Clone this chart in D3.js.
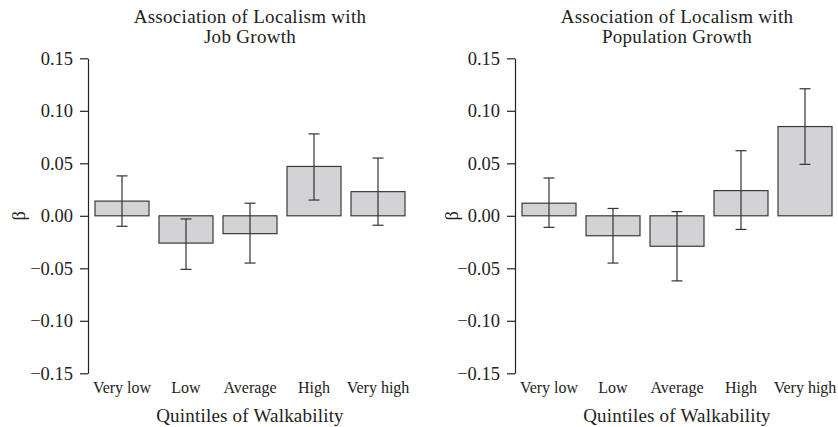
<!DOCTYPE html>
<html>
<head>
<meta charset="utf-8">
<script src="https://cdn.jsdelivr.net/npm/d3@7"></script>
<style>
  body { margin: 0; background: #fff; }
  svg text { font-family: "Liberation Serif", "Times New Roman", serif; fill: #222; }
</style>
</head>
<body>
<svg id="chart" width="838" height="427"></svg>
<script>
// quintiles of walkability
const categories = ["Very low", "Low", "Average", "High", "Very high"];

// job growth panel
const jobBeta  = [0.014, -0.026, -0.017, 0.047, 0.023];
const jobLower = [-0.010, -0.051, -0.045, 0.015, -0.009];
const jobUpper = [0.038, -0.003, 0.012, 0.078, 0.055];

// population growth panel
const popBeta  = [0.012, -0.019, -0.029, 0.024, 0.085];
const popLower = [-0.011, -0.045, -0.062, -0.013, 0.049];
const popUpper = [0.036, 0.007, 0.004, 0.062, 0.121];

const yTicks = [-0.15, -0.10, -0.05, 0.00, 0.05, 0.10, 0.15];

const svg = d3.select('#chart');

const yScale = d3.scaleLinear()
  .domain([-0.15, 0.15])
  .range([373.3, 58.3]);

function panel(axisX, betaX, title, beta, lower, upper) {
  const g = svg.append('g');

  const xScale = d3.scaleBand()
    .domain(categories)
    .range([axisX + 2, axisX + 322])
    .paddingInner(10 / 64)
    .paddingOuter(5 / 64);

  const cx = (axisX + 2 + axisX + 322) / 2;

  const rows = categories.map((c, i) => ({ c, b: beta[i], lo: lower[i], hi: upper[i] }));

  // bars
  g.selectAll('rect')
    .data(rows)
    .enter()
    .append('rect')
    .attr('x', d => xScale(d.c))
    .attr('width', xScale.bandwidth())
    .attr('y', d => yScale(Math.max(0, d.b)))
    .attr('height', d => Math.abs(yScale(d.b) - yScale(0)))
    .attr('fill', '#d3d3d5')
    .attr('stroke', '#3a3a3a')
    .attr('stroke-width', 1.2);

  // error bars
  const eb = g.selectAll('.err')
    .data(rows)
    .enter()
    .append('g')
    .attr('class', 'err')
    .attr('stroke', '#333')
    .attr('stroke-width', 1.2);

  eb.append('line')
    .attr('x1', d => xScale(d.c) + xScale.bandwidth() / 2)
    .attr('x2', d => xScale(d.c) + xScale.bandwidth() / 2)
    .attr('y1', d => yScale(d.lo))
    .attr('y2', d => yScale(d.hi));

  ['lo', 'hi'].forEach(k => {
    eb.append('line')
      .attr('x1', d => xScale(d.c) + xScale.bandwidth() / 2 - 5.5)
      .attr('x2', d => xScale(d.c) + xScale.bandwidth() / 2 + 5.5)
      .attr('y1', d => yScale(d[k]))
      .attr('y2', d => yScale(d[k]));
  });

  // y axis
  const yAxis = g.append('g')
    .attr('transform', `translate(${axisX}, 0)`)
    .call(d3.axisLeft(yScale)
      .tickValues(yTicks)
      .tickFormat(d3.format('.2f'))
      .tickSize(8)
      .tickSizeOuter(0)
      .tickPadding(7));
  yAxis.selectAll('path, line').attr('stroke', '#222').attr('stroke-width', 1.2);
  yAxis.selectAll('text').attr('font-size', 18.5).attr('fill', '#222')
    .style('font-family', '"Liberation Serif", serif');

  // x tick labels
  const xAxis = g.append('g')
    .attr('transform', `translate(0, ${yScale(-0.15)})`)
    .call(d3.axisBottom(xScale).tickSize(0).tickPadding(8.3));
  xAxis.select('.domain').remove();
  xAxis.selectAll('text').attr('font-size', 16).attr('fill', '#222')
    .style('font-family', '"Liberation Serif", serif');

  // title
  [['Association of Localism with', 23.3], [title, 43.3]].forEach(([t, y]) => {
    g.append('text')
      .attr('x', cx)
      .attr('y', y)
      .attr('text-anchor', 'middle')
      .attr('font-size', 19)
      .attr('letter-spacing', 0.3)
      .text(t);
  });

  // x axis title
  g.append('text')
    .attr('x', cx)
    .attr('y', 421.7)
    .attr('text-anchor', 'middle')
    .attr('font-size', 19)
    .attr('letter-spacing', 0.2)
    .text('Quintiles of Walkability');

  // y axis title
  g.append('text')
    .attr('transform', `translate(${betaX}, ${yScale(0)}) rotate(-90)`)
    .attr('text-anchor', 'middle')
    .attr('dy', '0.35em')
    .attr('font-size', 18.5)
    .text('β');
}

panel(88, 19, 'Job Growth', jobBeta, jobLower, jobUpper);
panel(515, 452, 'Population Growth', popBeta, popLower, popUpper);
</script>
</body>
</html>
